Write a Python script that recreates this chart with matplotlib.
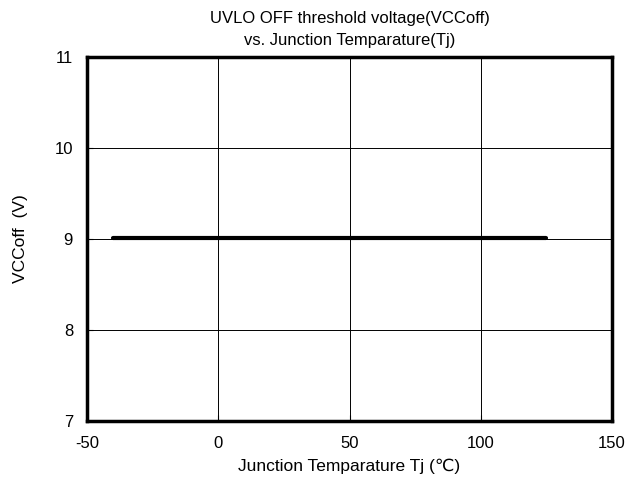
import matplotlib
matplotlib.use("Agg")
import matplotlib.pyplot as plt

plt.rcParams['font.family'] = ['Liberation Sans', 'DejaVu Sans']
plt.rcParams['axes.unicode_minus'] = False

tj = [-40, -30, -20, 25, 55, 85, 125]
vccoff = [9.01, 9.01, 9.01, 9.01, 9.01, 9.01, 9.01]
xticks = [-50, 0, 50, 100, 150]
yticks = [7, 8, 9, 10, 11]

fig = plt.figure(figsize=(6.26, 4.87), dpi=100)
ax = fig.add_axes([87/626, 1-421/487, (612-87)/626, (421-57)/487])
ax.plot(tj, vccoff, color='black', lw=3, solid_capstyle='round')
ax.set_xlim(-50, 150)
ax.set_ylim(7, 11)
ax.set_xticks(xticks)
ax.set_yticks(yticks)
ax.grid(True, color='black', lw=0.7)
for s in ax.spines.values():
    s.set_linewidth(2.5)
ax.tick_params(direction='in', length=4, width=0.8, labelsize=12, pad=10)
ax.tick_params(axis='x', pad=11)
ax.set_xlabel('Junction Temparature Tj (\u2103)', fontsize=12.5, labelpad=5)
ax.set_ylabel('VCCoff  (V)', fontsize=12.5, labelpad=19)
ax.set_title('UVLO OFF threshold voltage(VCCoff)\nvs. Junction Temparature(Tj)',
             fontsize=12, pad=9, linespacing=1.5)
fig.savefig('out.png', dpi=100)
